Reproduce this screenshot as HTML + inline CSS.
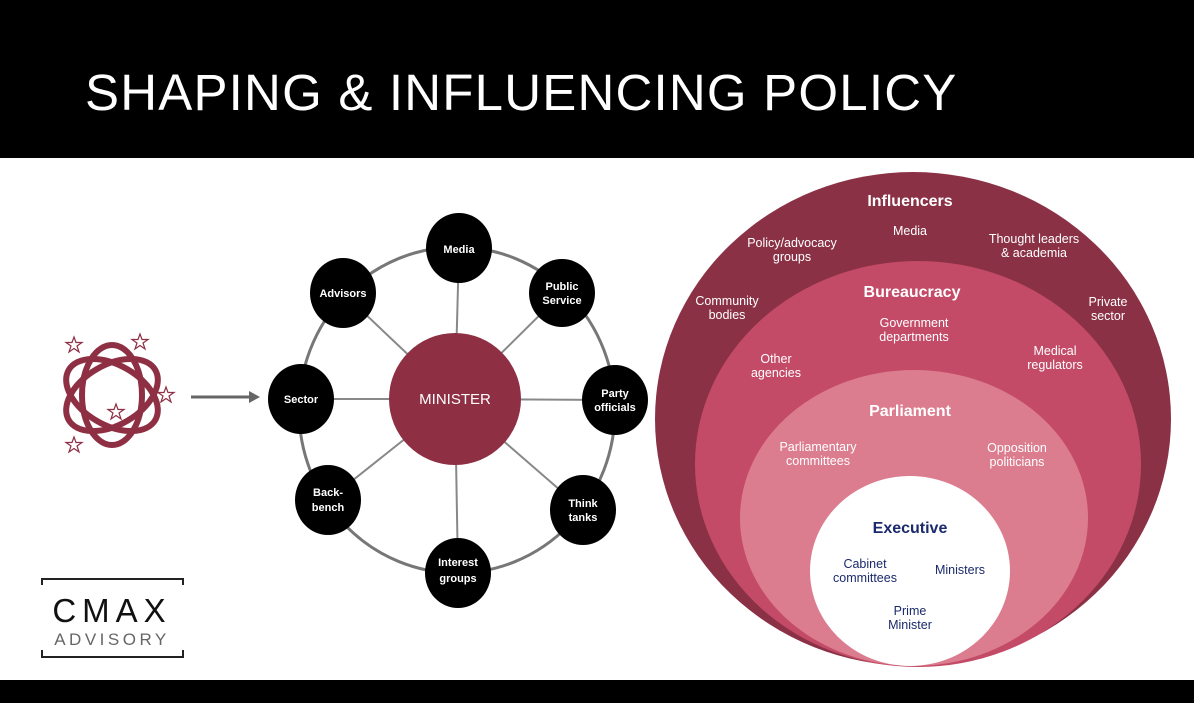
<!DOCTYPE html>
<html><head><style>
body{margin:0;width:1194px;height:703px;overflow:hidden;background:#fff;font-family:"Liberation Sans",sans-serif;}
.top{position:absolute;left:0;top:0;width:1194px;height:158px;background:#000;}
.title{position:absolute;left:85px;top:63px;color:#fff;font-size:51px;font-weight:normal;letter-spacing:1.2px;white-space:nowrap;}
.bot{position:absolute;left:0;top:680px;width:1194px;height:23px;background:#000;}
svg{position:absolute;left:0;top:0;}
</style></head><body>
<div class="top"></div>
<div class="title">SHAPING &amp; INFLUENCING POLICY</div>
<div class="bot"></div>
<svg width="1194" height="703" viewBox="0 0 1194 703" font-family="Liberation Sans, sans-serif">
<g fill="none" stroke="#8e2f43" stroke-width="6" transform="translate(112,395)">
<ellipse rx="50" ry="30" transform="rotate(30)"/>
<ellipse rx="50" ry="30" transform="rotate(90)"/>
<ellipse rx="50" ry="30" transform="rotate(150)"/>
</g>
<g fill="#fff" stroke="#8e2f43" stroke-width="1.2">
<polygon id="st" points="0,-8 2,-2.5 8,-2.5 3,1 5,7 0,3.5 -5,7 -3,1 -8,-2.5 -2,-2.5" transform="translate(74,345)"/>
<use href="#st" transform="translate(66,-3)"/>
<use href="#st" transform="translate(92,50)"/>
<use href="#st" transform="translate(42,67)"/>
<use href="#st" transform="translate(0,100)"/>
</g>
<line x1="191" y1="397" x2="250" y2="397" stroke="#666" stroke-width="3"/>
<polygon points="249,391 260,397 249,403" fill="#666"/>
<path d="M42,585 V579 H183 V585 M42,650 V657 H183 V650" fill="none" stroke="#222" stroke-width="2"/>
<text x="112" y="622" text-anchor="middle" font-size="33" letter-spacing="6" fill="#111">CMAX</text>
<text x="112" y="645" text-anchor="middle" font-size="17" letter-spacing="3.5" fill="#666">ADVISORY</text>
<ellipse cx="457" cy="410" rx="158" ry="163" fill="none" stroke="#777" stroke-width="3"/>
<g stroke="#888" stroke-width="2">
<line x1="455" y1="399" x2="459" y2="248"/><line x1="455" y1="399" x2="562" y2="293"/>
<line x1="455" y1="399" x2="615" y2="400"/><line x1="455" y1="399" x2="583" y2="510"/>
<line x1="455" y1="399" x2="458" y2="573"/><line x1="455" y1="399" x2="328" y2="500"/>
<line x1="455" y1="399" x2="301" y2="399"/><line x1="455" y1="399" x2="343" y2="293"/>
</g>
<circle cx="455" cy="399" r="66" fill="#8e2f43"/>
<text x="455" y="404" text-anchor="middle" fill="#fff" font-size="15">MINISTER</text>
<g fill="#000">
<ellipse cx="459" cy="248" rx="33" ry="35"/><ellipse cx="562" cy="293" rx="33" ry="34"/>
<ellipse cx="615" cy="400" rx="33" ry="35"/><ellipse cx="583" cy="510" rx="33" ry="35"/>
<ellipse cx="458" cy="573" rx="33" ry="35"/><ellipse cx="328" cy="500" rx="33" ry="35"/>
<ellipse cx="301" cy="399" rx="33" ry="35"/><ellipse cx="343" cy="293" rx="33" ry="35"/>
</g>
<g fill="#fff" font-size="11" font-weight="bold" text-anchor="middle">
<text x="459" y="253">Media</text>
<text x="562" y="290">Public</text><text x="562" y="304">Service</text>
<text x="615" y="397">Party</text><text x="615" y="411">officials</text>
<text x="583" y="507">Think</text><text x="583" y="521">tanks</text>
<text x="458" y="566">Interest</text><text x="458" y="582">groups</text>
<text x="328" y="496">Back-</text><text x="328" y="511">bench</text>
<text x="301" y="403">Sector</text>
<text x="343" y="297">Advisors</text>
</g>
<ellipse cx="913" cy="419" rx="258" ry="247" fill="#8b3146"/>
<ellipse cx="918" cy="464" rx="223" ry="203" fill="#c44b67"/>
<ellipse cx="914" cy="518" rx="174" ry="148" fill="#dc7d8f"/>
<ellipse cx="910" cy="571" rx="100" ry="95" fill="#fff"/>
<g fill="#fff" text-anchor="middle" font-size="12.5">
<text x="910" y="206" font-size="16" font-weight="bold">Influencers</text>
<text x="910" y="235">Media</text>
<text x="792" y="247">Policy/advocacy</text><text x="792" y="261">groups</text>
<text x="1034" y="243">Thought leaders</text><text x="1034" y="257">&amp; academia</text>
<text x="727" y="305">Community</text><text x="727" y="319">bodies</text>
<text x="1108" y="306">Private</text><text x="1108" y="320">sector</text>
<text x="912" y="297" font-size="16" font-weight="bold">Bureaucracy</text>
<text x="914" y="327">Government</text><text x="914" y="341">departments</text>
<text x="776" y="363">Other</text><text x="776" y="377">agencies</text>
<text x="1055" y="355">Medical</text><text x="1055" y="369">regulators</text>
<text x="910" y="416" font-size="16" font-weight="bold">Parliament</text>
<text x="818" y="451">Parliamentary</text><text x="818" y="465">committees</text>
<text x="1017" y="452">Opposition</text><text x="1017" y="466">politicians</text>
</g>
<g fill="#1a2a6c" text-anchor="middle" font-size="12.5">
<text x="910" y="533" font-size="16" font-weight="bold">Executive</text>
<text x="865" y="568">Cabinet</text><text x="865" y="582">committees</text>
<text x="960" y="574">Ministers</text>
<text x="910" y="615">Prime</text><text x="910" y="629">Minister</text>
</g>
</svg>
</body></html>
